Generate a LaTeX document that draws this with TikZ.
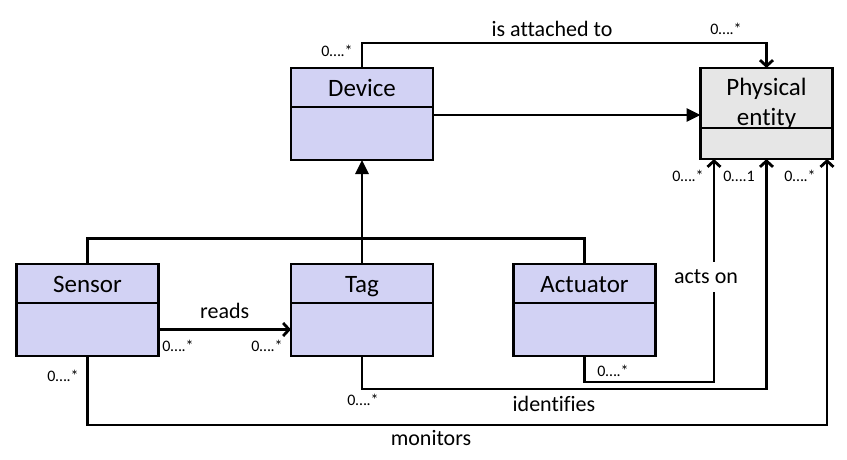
\documentclass[tikz,border=0pt]{standalone}
\usepackage{fontspec}
\setmainfont{Carlito}[Ligatures=NoCommon]
\usetikzlibrary{arrows.meta,positioning}
\definecolor{kfill}{RGB}{210,210,244}
\definecolor{kgray}{RGB}{230,230,230}
\tikzset{
kline/.style={line width=2.8pt},
khead/.style={draw,kline,fill=kfill,outer sep=0pt,inner sep=0pt,minimum width=142pt,minimum height=39pt,font=\fontsize{25}{28}\selectfont,text height=20pt,text depth=2pt},
kbody/.style={draw,kline,fill=kfill,outer sep=0pt,inner sep=0pt,minimum width=142pt,minimum height=53pt},
kopen/.style={kline,-{Straight Barb[length=6pt,width=13pt]}},
ktri/.style={kline,-{Triangle[length=14pt,width=13pt]}},
klabel/.style={font=\fontsize{22}{24}\selectfont,inner sep=1pt},
kmult/.style={font=\fontsize{16}{18}\selectfont,inner sep=0pt},
}
\begin{document}
\begin{tikzpicture}[x=1pt,y=1pt]
\useasboundingbox (0,0) rectangle (847,-459);
\pgfmathsetmacro{\kbar}{-238.5}
\pgfmathsetmacro{\kpin}{25}
\node[khead] (dev) at (362,-87.5) {Device};
\node[kbody,below=0pt of dev] (devb) {};
\node[khead,fill=kgray,minimum width=132pt,minimum height=60pt,align=center,font=\fontsize{25}{30}\selectfont,text height=56pt,text depth=2pt] (ph) at (766.5,-98) {Physical\\entity};
\node[kbody,fill=kgray,minimum width=132pt,minimum height=31pt,below=0pt of ph] (phb) {};
\node[khead] (sens) at (87.5,-283.5) {Sensor};
\node[kbody,below=0pt of sens] (sensb) {};
\node[khead] (tag) at (362,-283.5) {Tag};
\node[kbody,below=0pt of tag] (tagb) {};
\node[khead] (act) at (584.5,-283.5) {Actuator};
\node[kbody,below=0pt of act] (actb) {};
\coordinate (gen) at (362,\kbar);
\coordinate (in1) at ([xshift=-52.5pt]phb.south);
\coordinate (in3) at ([xshift=60.5pt]phb.south);
\draw[kopen](dev.north)--++(0,\kpin)-|(ph.north);
\draw[ktri]([yshift=-8pt]devb.north east)--([yshift=-8pt]devb.north east -| ph.west);
\draw[kline](sens.north)|-(gen)-|(act.north);
\draw[ktri](tag.north)--(devb.south);
\draw[kopen](sensb.east)--(tagb.west)node[klabel,midway,above=8pt](rd){reads};
\draw[kopen](sensb.south)--++(0,-69)-|(in3);
\draw[kopen](tagb.south)--++(0,-33)-|(phb.south);
\draw[kopen](actb.south)--++(0,-26)-|(in1);
\node[klabel,fill=white,inner ysep=8pt] (acts) at (706,-277) {acts on};
\node[klabel] (att) at (552,-29) {is attached to};
\node[klabel] (idf) at (554,-404) {identifies};
\node[klabel] (mon) at (431,-438) {monitors};
\node[kmult] (m1) at (337,-51) {0….*};
\node[kmult] (m2) at (726,-29) {0….*};
\node[kmult] (m3) at (178,-346) {0….*};
\node[kmult] (m4) at (267,-346) {0….*};
\node[kmult] (m5) at (63,-376) {0….*};
\node[kmult] (m6) at (363,-400) {0….*};
\node[kmult] (m7) at (613,-371) {0….*};
\node[kmult] (m8) at (688,-176) {0….*};
\node[kmult] (m9) at (739,-176) {0….1};
\node[kmult] (m10) at (800,-176) {0….*};
\end{tikzpicture}
\end{document}
